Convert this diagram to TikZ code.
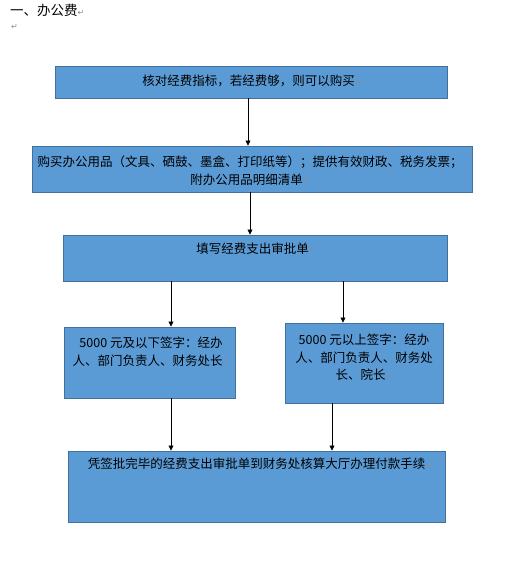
\documentclass[tikz,border=0pt]{standalone}
\usepackage{fontspec}
\setmainfont{Noto Sans CJK SC}
\newfontfamily\symfont{DejaVu Sans}
\usepackage{xcolor}
\usetikzlibrary{arrows.meta,positioning}
\definecolor{boxblue}{HTML}{5B9BD5}
\definecolor{boxedge}{HTML}{41719C}
\definecolor{markgray}{HTML}{8C8C8C}
\newcommand{\parmark}{{\symfont\color{markgray}\fontsize{8}{8}\selectfont ↵}}
\tikzset{
  flowbox/.style={
    rectangle, draw=boxedge, fill=boxblue, line width=0.9pt, inner sep=0pt
  },
  boxtext/.style={
    font=\fontsize{12.5}{18}\selectfont, align=center, inner sep=0pt
  },
  flowarrow/.style={
    -{Triangle[length=5pt,width=5pt]}, line width=0.6pt, color=black
  },
}
\begin{document}
\begin{tikzpicture}[x=1pt, y=-1pt]
  \useasboundingbox (0,0) rectangle (526,561);

  % Heading
  \node[font=\fontsize{13.5}{16}\selectfont, anchor=west, inner sep=0pt] (title) at (10,10) {一、办公费\parmark};
  \node[anchor=west, inner sep=0pt] (blank) at (11,27) {\parmark};

  % Boxes
  \node[flowbox, minimum width=392pt, minimum height=32pt] (box1) at (251,82) {};
  \node[flowbox, minimum width=440pt, minimum height=46pt] (box2) at (252,169) {};
  \node[flowbox, minimum width=384pt, minimum height=46pt] (box3) at (255,258) {};
  \node[flowbox, minimum width=171pt, minimum height=71pt] (box4) at (149.5,362.5) {};
  \node[flowbox, minimum width=158pt, minimum height=80pt] (box5) at (364,363) {};
  \node[flowbox, minimum width=377pt, minimum height=71pt] (box6) at (256.5,486.5) {};

  % Texts
  \node[boxtext] (txt1) at (252,81) {核对经费指标，若经费够，则可以购买\parmark};
  \node[boxtext] (txt2) at (250,171) {购买办公用品（文具、硒鼓、墨盒、打印纸等）；提供有效财政、税务发票；\\附办公用品明细清单\parmark};
  \node[boxtext] (txt3) at (256,249) {填写经费支出审批单\parmark};
  \node[boxtext] (txt4) at (151,352) {5000 元及以下签字：经办\\人、部门负责人、财务处长\parmark};
  \node[boxtext, font=\fontsize{12.5}{17.5}\selectfont] (txt5) at (364,357.5) {5000 元以上签字：经办\\人、部门负责人、财务处\\长、院长\parmark};
  \node[boxtext] (txt6) at (260,464) {凭签批完毕的经费支出审批单到财务处核算大厅办理付款手续\parmark};

  % Arrows
  \draw[flowarrow] ([xshift=-3pt]box1.south) -- ([xshift=-3pt]box1.south |- box2.north);
  \draw[flowarrow] ([xshift=-2pt]box2.south) -- ([xshift=-2pt]box2.south |- box3.north);
  \draw[flowarrow] ([xshift=-84pt]box3.south) -- ([xshift=-84pt]box3.south |- box4.north);
  \draw[flowarrow] ([xshift=88pt]box3.south) -- ([xshift=88pt]box3.south |- box5.north);
  \draw[flowarrow] ([xshift=21.5pt]box4.south) -- ([xshift=21.5pt]box4.south |- box6.north);
  \draw[flowarrow] ([xshift=-32pt]box5.south) -- ([xshift=-32pt]box5.south |- box6.north);
\end{tikzpicture}
\end{document}
